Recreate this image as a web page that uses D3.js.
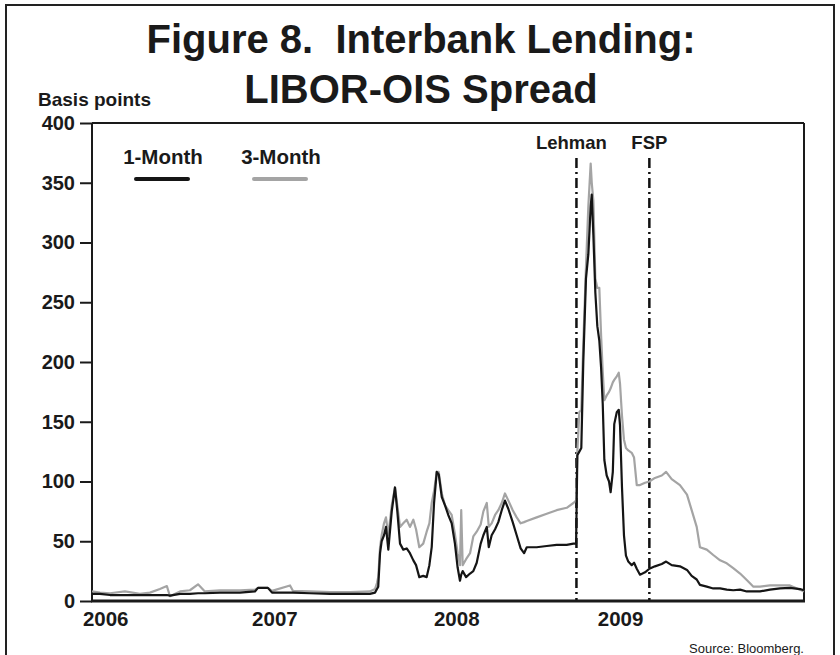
<!DOCTYPE html>
<html>
<head>
<meta charset="utf-8">
<script src="https://cdn.jsdelivr.net/npm/d3@7"></script>
<style>
  body { margin: 0; background: #fff; }
  text { font-family: "Liberation Sans", Arial, sans-serif; fill: #1a1a1a; }
</style>
</head>
<body>
<div id="chart"></div>
<script>
// LIBOR-OIS spread, basis points (dates as decimal years)
var dates = [2006.014, 2006.058, 2006.114, 2006.197, 2006.280, 2006.336, 2006.391, 2006.430, 2006.447, 2006.503,
  2006.558, 2006.603, 2006.641, 2006.725, 2006.836, 2006.919, 2006.936, 2006.991, 2007.014, 2007.114,
  2007.130, 2007.225, 2007.336, 2007.447, 2007.558, 2007.586, 2007.597, 2007.604, 2007.614, 2007.623,
  2007.636, 2007.647, 2007.660, 2007.679, 2007.697, 2007.710, 2007.725, 2007.743, 2007.762, 2007.780,
  2007.799, 2007.814, 2007.832, 2007.854, 2007.873, 2007.888, 2007.901, 2007.914, 2007.929, 2007.940,
  2007.957, 2007.975, 2007.993, 2008.012, 2008.030, 2008.045, 2008.058, 2008.065, 2008.073, 2008.092,
  2008.114, 2008.132, 2008.151, 2008.173, 2008.188, 2008.207, 2008.218, 2008.234, 2008.253, 2008.271,
  2008.290, 2008.308, 2008.327, 2008.351, 2008.373, 2008.395, 2008.414, 2008.429, 2008.484, 2008.540,
  2008.595, 2008.651, 2008.688, 2008.703, 2008.710, 2008.721, 2008.732, 2008.743, 2008.758, 2008.771,
  2008.784, 2008.790, 2008.799, 2008.810, 2008.821, 2008.832, 2008.842, 2008.851, 2008.860, 2008.873,
  2008.886, 2008.895, 2008.907, 2008.915, 2008.929, 2008.940, 2008.947, 2008.958, 2008.969, 2008.980,
  2008.993, 2009.012, 2009.025, 2009.040, 2009.058, 2009.086, 2009.110, 2009.141, 2009.179, 2009.203,
  2009.234, 2009.280, 2009.319, 2009.345, 2009.373, 2009.391, 2009.429, 2009.465, 2009.503, 2009.540,
  2009.576, 2009.614, 2009.651, 2009.688, 2009.725, 2009.780, 2009.836, 2009.891, 2009.947, 2009.969];

var oneMonth = [6, 6, 5, 5, 5, 5, 5, 5, 4.5, 6,
  6, 6.5, 6.5, 7, 7, 8, 11, 11, 7, 7,
  7, 6.5, 6, 6, 6, 7, 10, 12, 40, 50,
  55, 62, 43, 75, 95, 75, 48, 43, 44, 40,
  34, 30, 20, 21, 20, 30, 45, 82, 108, 106,
  87, 80, 72, 65, 48, 28, 17, 22, 25, 20,
  23, 25, 32, 48, 55, 62, 45, 55, 60, 66,
  76, 84, 77, 66, 55, 44, 40, 45, 45, 46,
  47, 47, 48, 48, 122, 125, 128, 200, 270, 290,
  330, 340, 306, 258, 230, 218, 195, 165, 118, 105,
  100, 91, 108, 148, 158, 160, 147, 95, 55, 38,
  33, 30, 32, 27, 22, 24, 27, 29, 31, 33,
  30, 29, 26, 21, 18, 13.5, 12, 10.5, 10.5, 9.5,
  9, 9.5, 8, 8, 8, 9.5, 10.5, 11, 10, 9];

var threeMonth = [8, 7, 6.5, 8, 6, 7, 10, 12.5, 4, 8,
  9, 14, 8, 9, 9, 9.5, 11, 11, 8.5, 13,
  8.5, 8, 7.5, 7.5, 8, 10, 15, 20, 45, 55,
  65, 70, 55, 80, 95, 80, 62, 65, 68, 62,
  68, 60, 45, 48, 58, 65, 82, 92, 108, 108,
  90, 80, 76, 72, 56, 40, 30, 76, 30, 35,
  40, 54, 58, 64, 75, 82, 62, 65, 72, 76,
  82, 90, 84, 76, 70, 65, 66, 67, 70, 73,
  76, 78, 82, 84, 125, 158, 160, 215, 280, 330,
  366, 350, 335, 270, 262, 262, 222, 192, 168, 172,
  175, 178, 183, 185, 188, 191, 182, 155, 135, 128,
  126, 124, 120, 97, 97, 99, 100, 103, 105, 108,
  102, 97, 89, 76, 62, 45, 43, 38.5, 34, 31.5,
  27.5, 23, 17.5, 12, 12, 13, 13, 13, 9.5, 8];

var seriesNames = ["1-Month", "3-Month"];
var yTicks = [0, 50, 100, 150, 200, 250, 300, 350, 400];
var yearLabels = ["2006", "2007", "2008", "2009"];
var yearLabelAt = [2006.09, 2007.03, 2008.04, 2008.95];
var events = [{ name: "Lehman", date: 2008.705 }, { name: "FSP", date: 2009.110 }];

var w = 840, h = 655;
var margin = { top: 123, right: 36, bottom: 54, left: 92 };

var svg = d3.select("#chart").append("svg")
  .attr("width", w)
  .attr("height", h);

// outer frame
svg.append("rect")
  .attr("x", 6).attr("y", 5)
  .attr("width", 828).attr("height", 700)
  .attr("fill", "none")
  .attr("stroke", "#222")
  .attr("stroke-width", 2);

var x = d3.scaleLinear()
  .domain([dates[0], dates[dates.length - 1]])
  .range([margin.left, w - margin.right]);

var y = d3.scaleLinear()
  .domain([0, 400])
  .range([h - margin.bottom, margin.top]);

// title
svg.append("text")
  .attr("x", 421).attr("y", 53)
  .attr("text-anchor", "middle")
  .attr("font-size", "40px").attr("font-weight", "bold")
  .attr("xml:space", "preserve")
  .text("Figure 8.  Interbank Lending:");
svg.append("text")
  .attr("x", 421).attr("y", 103)
  .attr("text-anchor", "middle")
  .attr("font-size", "40px").attr("font-weight", "bold")
  .text("LIBOR-OIS Spread");

svg.append("text")
  .attr("x", 38).attr("y", 106)
  .attr("font-size", "19px").attr("font-weight", "bold")
  .text("Basis points");

// y axis
var yAxis = svg.append("g")
  .attr("transform", "translate(" + margin.left + ",0)")
  .call(d3.axisLeft(y).tickValues(yTicks).tickSize(12).tickPadding(5));
yAxis.select(".domain").remove();
yAxis.selectAll("line").attr("stroke", "#1a1a1a").attr("stroke-width", 2);
yAxis.selectAll("text")
  .attr("font-size", "20px").attr("font-weight", "bold")
  .attr("font-family", "Liberation Sans, Arial, sans-serif")
  .attr("fill", "#1a1a1a");

// plot box
svg.append("line")
  .attr("x1", margin.left).attr("x2", margin.left)
  .attr("y1", y(400)).attr("y2", y(0))
  .attr("stroke", "#1a1a1a").attr("stroke-width", 2);
svg.append("line")
  .attr("x1", margin.left).attr("x2", w - margin.right)
  .attr("y1", y(400)).attr("y2", y(400))
  .attr("stroke", "#1a1a1a").attr("stroke-width", 2);
svg.append("line")
  .attr("x1", w - margin.right).attr("x2", w - margin.right)
  .attr("y1", y(400)).attr("y2", y(0))
  .attr("stroke", "#1a1a1a").attr("stroke-width", 2);

// event lines
svg.append("g").selectAll("line")
  .data(events)
  .enter()
  .append("line")
  .attr("x1", function (d) { return x(d.date); })
  .attr("x2", function (d) { return x(d.date); })
  .attr("y1", 158)
  .attr("y2", y(0))
  .attr("stroke", "#111")
  .attr("stroke-width", 2.5)
  .attr("stroke-dasharray", "10,4,2,4");

svg.append("g").selectAll("text")
  .data(events)
  .enter()
  .append("text")
  .attr("x", function (d, i) { return x(d.date) + (i == 0 ? -5 : 0); })
  .attr("y", 149)
  .attr("text-anchor", "middle")
  .attr("font-size", "18.5px").attr("font-weight", "bold")
  .text(function (d) { return d.name; });

// series
var line3 = d3.line()
  .x(function (d, i) { return x(dates[i]); })
  .y(function (d) { return y(d); });

svg.append("path")
  .datum(threeMonth)
  .attr("d", line3)
  .attr("fill", "none")
  .attr("stroke", "#a4a4a4")
  .attr("stroke-width", 2.2)
  .attr("stroke-linejoin", "round");

svg.append("path")
  .datum(oneMonth)
  .attr("d", line3)
  .attr("fill", "none")
  .attr("stroke", "#151515")
  .attr("stroke-width", 2.2)
  .attr("stroke-linejoin", "round");

// x axis (bottom line, labels)
svg.append("line")
  .attr("x1", margin.left - 1).attr("x2", w - margin.right + 1)
  .attr("y1", y(0)).attr("y2", y(0))
  .attr("stroke", "#1a1a1a").attr("stroke-width", 3);

svg.append("g").selectAll("text")
  .data(yearLabels)
  .enter()
  .append("text")
  .attr("x", function (d, i) { return x(yearLabelAt[i]); })
  .attr("y", 626)
  .attr("text-anchor", "middle")
  .attr("font-size", "20.5px").attr("font-weight", "bold")
  .text(function (d) { return d; });

// legend
var legendX = [163, 281];
var legendColor = ["#151515", "#a4a4a4"];
var legend = svg.append("g").selectAll("g")
  .data(seriesNames)
  .enter()
  .append("g");
legend.append("text")
  .attr("x", function (d, i) { return legendX[i]; })
  .attr("y", 164)
  .attr("text-anchor", "middle")
  .attr("font-size", "20.5px").attr("font-weight", "bold")
  .text(function (d) { return d; });
legend.append("line")
  .attr("x1", function (d, i) { return legendX[i] - 27; })
  .attr("x2", function (d, i) { return legendX[i] + 25; })
  .attr("y1", 179).attr("y2", 179)
  .attr("stroke", function (d, i) { return legendColor[i]; })
  .attr("stroke-width", 4)
  .attr("stroke-linecap", "round");

svg.append("text")
  .attr("x", 804).attr("y", 653)
  .attr("text-anchor", "end")
  .attr("font-size", "13px")
  .text("Source: Bloomberg.");
</script>
</body>
</html>
